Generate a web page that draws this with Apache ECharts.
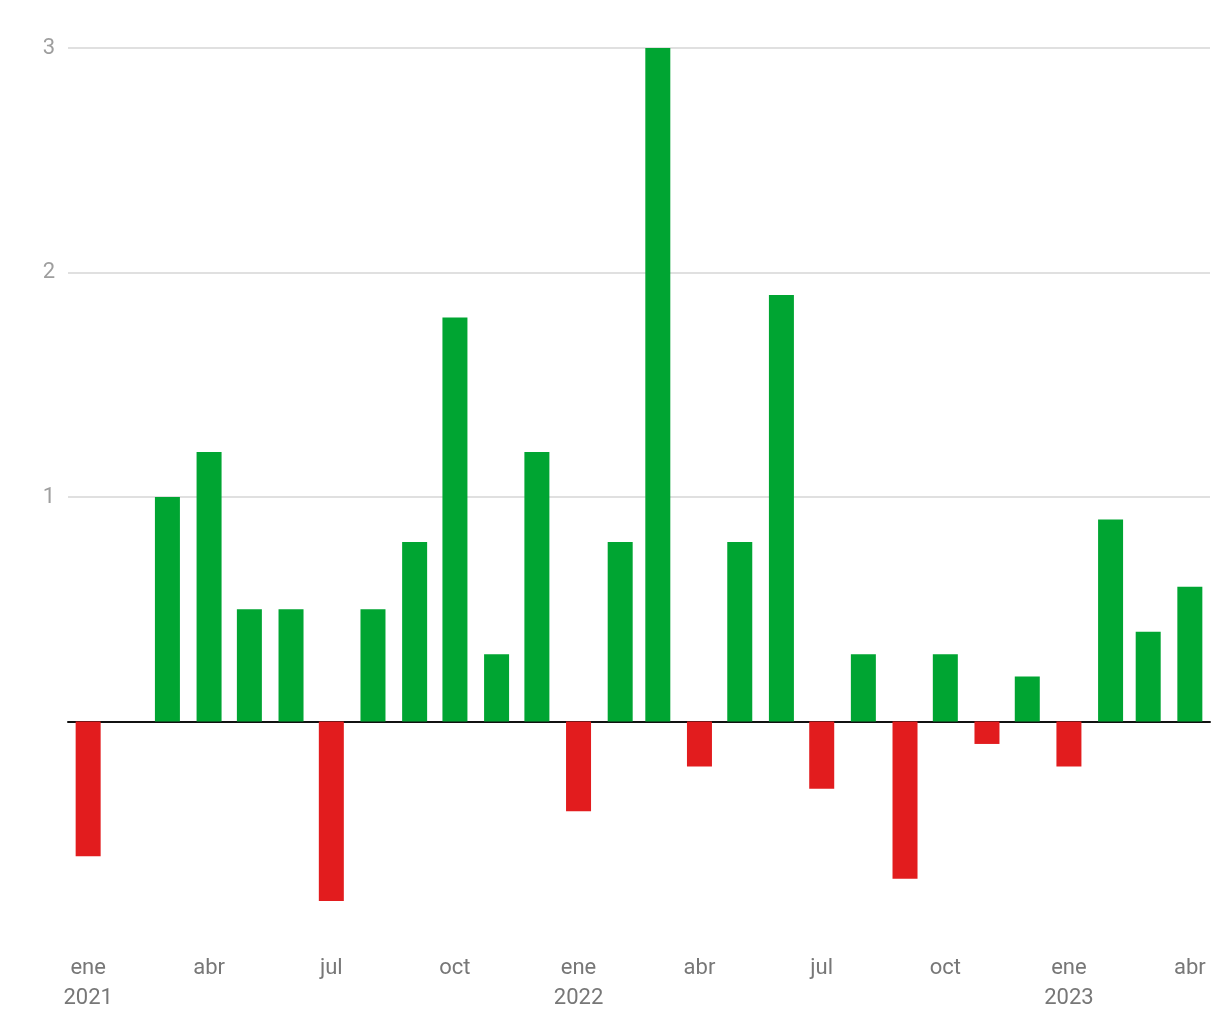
<!DOCTYPE html>
<html>
<head>
<meta charset="utf-8">
<script src="https://cdn.jsdelivr.net/npm/echarts@6/dist/echarts.min.js"></script>
<style>
html,body{margin:0;padding:0;background:#fff;}
#chart{width:1220px;height:1020px;}
</style>
</head>
<body>
<div id="chart"></div>
<script>
const dates = ['2021-01-01','2021-02-01','2021-03-01','2021-04-01','2021-05-01','2021-06-01','2021-07-01','2021-08-01','2021-09-01','2021-10-01','2021-11-01','2021-12-01',
  '2022-01-01','2022-02-01','2022-03-01','2022-04-01','2022-05-01','2022-06-01','2022-07-01','2022-08-01','2022-09-01','2022-10-01','2022-11-01','2022-12-01',
  '2023-01-01','2023-02-01','2023-03-01','2023-04-01'];
const values = [-0.6, 0, 1.0, 1.2, 0.5, 0.5, -0.8, 0.5, 0.8, 1.8, 0.3, 1.2,
  -0.4, 0.8, 3.0, -0.2, 0.8, 1.9, -0.3, 0.3, -0.7, 0.3, -0.1, 0.2,
  -0.2, 0.9, 0.4, 0.6];
const monthNames = ['ene','feb','mar','abr','may','jun','jul','ago','sep','oct','nov','dic'];
const tickDates = ['2021-01-01','2021-04-01','2021-07-01','2021-10-01','2022-01-01','2022-04-01','2022-07-01','2022-10-01','2023-01-01','2023-04-01'];
const yTicks = [-1, 0, 1, 2, 3];
const GREEN = '#00a532';
const RED = '#e21c1e';

const DAY = 86400000;
const ts = s => { const [y, m, d] = s.split('-').map(Number); return Date.UTC(y, m - 1, d); };

const chart = echarts.init(document.getElementById('chart'));
chart.setOption({
  animation: false,
  grid: {left: 68, right: 10, top: 48, bottom: 74, containLabel: false},
  xAxis: {
    type: 'value',
    scale: true,
    min: ts(dates[0]) - 15 * DAY,
    max: ts(dates[dates.length - 1]) + 15 * DAY,
    axisTick: {show: false},
    axisLine: {show: true, onZero: true, lineStyle: {color: '#111', width: 2}},
    axisLabel: {
      customValues: tickDates.map(ts),
      showMinLabel: true,
      showMaxLabel: true,
      hideOverlap: false,
      color: '#777',
      fontFamily: 'Roboto',
      fontSize: 22,
      lineHeight: 30,
      margin: 7,
      formatter: v => {
        const d = new Date(v);
        const m = d.getUTCMonth();
        return m === 0 ? monthNames[m] + '\n' + d.getUTCFullYear() : monthNames[m];
      }
    },
    splitLine: {show: false}
  },
  yAxis: {
    type: 'value',
    min: yTicks[0],
    max: yTicks[yTicks.length - 1],
    interval: 1,
    axisLine: {show: false},
    axisTick: {show: false},
    axisLabel: {
      color: '#9e9e9e',
      fontFamily: 'Roboto',
      fontSize: 22,
      margin: 13,
      formatter: v => (v > 0 ? String(v) : '')
    },
    splitLine: {show: true, lineStyle: {color: ['rgba(0,0,0,0)', 'rgba(0,0,0,0)', '#e0e0e0', '#e0e0e0', '#e0e0e0'], width: 2}}
  },
  series: [{
    type: 'bar',
    barWidth: 25,
    data: dates.map((d, i) => ({value: [ts(d), values[i]], itemStyle: {color: values[i] >= 0 ? GREEN : RED}}))
  }]
});
</script>
</body>
</html>
